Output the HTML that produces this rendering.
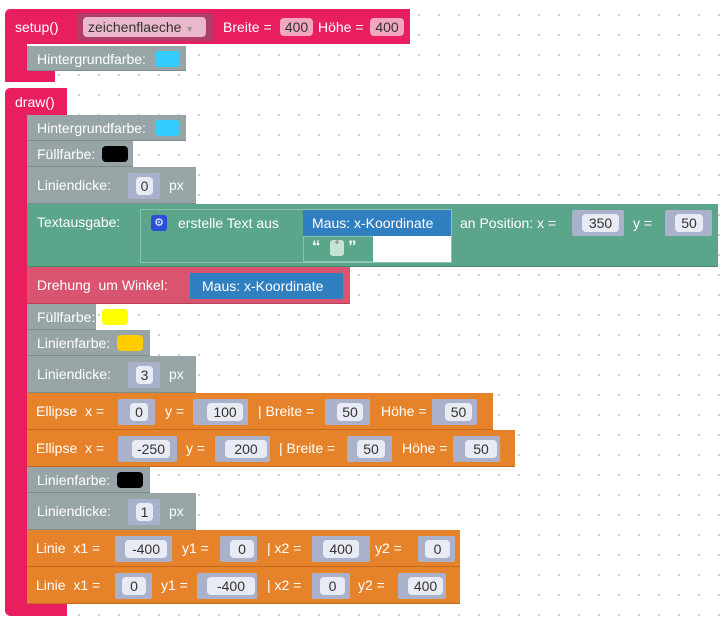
<!DOCTYPE html>
<html><head><meta charset="utf-8"><style>
body{margin:0;width:723px;height:622px;overflow:hidden;background:#fff;
background-image:radial-gradient(circle,#c4c4c4 0.8px,transparent 1.2px);background-size:20px 20px;background-position:9px 5px;
font-family:"Liberation Sans",sans-serif;position:relative}
div,span{position:absolute;box-sizing:border-box}
.t{color:#fff;font-size:14px;white-space:nowrap;line-height:16px}
.sk{background:#aab1ca;border-radius:2px}
.v{background:#e8ebf3;border-radius:4px;color:#333;font-size:14px;text-align:center;line-height:18px;height:18px}
.g{background:#98a5a6;border-bottom:1px solid #7f8c8d}
.o{background:#e6832a;border-bottom:1px solid #c46a1c}
.sw{border-radius:4px}
</style></head><body>
<!-- setup -->
<div style="left:5px;top:9px;width:405px;height:35px;background:#e91e5f;border-radius:5px 0 0 0"></div>
<div style="left:5px;top:40px;width:22px;height:42px;background:#e91e5f"></div>
<div style="left:5px;top:66px;width:50px;height:16px;background:#e91e5f;border-radius:0 0 0 6px"></div>
<span class="t" style="left:15px;top:19px">setup()</span>
<div style="left:77px;top:13px;width:136px;height:28px;background:#b03c6c"></div>
<div style="left:83px;top:17px;width:123px;height:20px;background:#eab8cc;border-radius:4px"></div>
<span class="t" style="left:88px;top:19px;color:#333">zeichenflaeche <span style="position:static;font-size:9px;color:#999">▼</span></span>
<span class="t" style="left:223px;top:19px">Breite =</span>
<div class="v" style="left:280px;top:18px;width:33px;background:#f2a6c0">400</div>
<span class="t" style="left:318px;top:19px">Höhe =</span>
<div class="v" style="left:370px;top:18px;width:34px;background:#f2a6c0">400</div>
<div class="g" style="left:27px;top:46px;width:159px;height:25px"></div>
<span class="t" style="left:37px;top:51px">Hintergrundfarbe:</span>
<div class="sw" style="left:155px;top:51px;width:25px;height:16px;background:#33ccff"></div>

<!-- draw -->
<div style="left:5px;top:88px;width:62px;height:27px;background:#e91e5f;border-radius:5px 0 0 0"></div>
<div style="left:5px;top:100px;width:22px;height:516px;background:#e91e5f;border-radius:0 0 0 6px"></div>
<div style="left:5px;top:603px;width:62px;height:13px;background:#e91e5f;border-radius:0 0 0 6px"></div>
<span class="t" style="left:15px;top:94px">draw()</span>

<div class="g" style="left:27px;top:115px;width:159px;height:26px"></div>
<span class="t" style="left:37px;top:120px">Hintergrundfarbe:</span>
<div class="sw" style="left:155px;top:120px;width:25px;height:16px;background:#33ccff"></div>

<div class="g" style="left:27px;top:141px;width:106px;height:26px"></div>
<span class="t" style="left:37px;top:146px">Füllfarbe:</span>
<div class="sw" style="left:102px;top:146px;width:26px;height:16px;background:#000"></div>

<div class="g" style="left:27px;top:167px;width:169px;height:37px"></div>
<span class="t" style="left:37px;top:177px">Liniendicke:</span>
<div class="sk" style="left:128px;top:173px;width:32px;height:26px"></div>
<div class="v" style="left:136px;top:177px;width:17px">0</div>
<span class="t" style="left:169px;top:177px">px</span>

<!-- Textausgabe -->
<div style="left:27px;top:204px;width:691px;height:63px;background:#5ba58b;border-bottom:1px solid #4a8a73"></div>
<span class="t" style="left:37px;top:214px">Textausgabe:</span>
<div style="left:140px;top:209px;width:312px;height:54px;border:1px solid #8cc3ae;background:#5ba58b"></div>
<div style="left:151px;top:215px;width:16px;height:16px;background:#2b4fd6;border-radius:3px;color:#fff;font-size:11px;text-align:center;line-height:16px">⚙</div>
<span class="t" style="left:178px;top:215px">erstelle Text aus</span>
<div style="left:303px;top:210px;width:148px;height:26px;background:#2f7fc1"></div>
<span class="t" style="left:312px;top:215px">Maus: x-Koordinate</span>
<div style="left:303px;top:236px;width:71px;height:26px;background:#5ba58b;border:1px solid #8cc3ae"></div>
<div style="left:373px;top:236px;width:78px;height:26px;background:#fff"></div>
<span class="t" style="left:312px;top:239px;font-weight:bold;font-size:17px">“</span>
<div style="left:330px;top:240px;width:14px;height:16px;background:#c9e2d6;border-radius:3px;color:#333;font-size:10px;text-align:center;line-height:12px">°</div>
<span class="t" style="left:348px;top:239px;font-weight:bold;font-size:17px">”</span>
<span class="t" style="left:460px;top:215px">an Position: x =</span>
<div class="sk" style="left:572px;top:210px;width:52px;height:26px"></div>
<div class="v" style="left:582px;top:214px;width:37px">350</div>
<span class="t" style="left:633px;top:215px">y =</span>
<div class="sk" style="left:665px;top:210px;width:47px;height:26px"></div>
<div class="v" style="left:675px;top:214px;width:28px">50</div>

<!-- Drehung -->
<div style="left:27px;top:267px;width:323px;height:37px;background:#d8546f;border-bottom:1px solid #b8405a"></div>
<span class="t" style="left:37px;top:277px">Drehung &nbsp;um Winkel:</span>
<div style="left:190px;top:273px;width:153px;height:26px;background:#2f7fc1"></div>
<span class="t" style="left:202px;top:278px">Maus: x-Koordinate</span>

<div class="g" style="left:27px;top:304px;width:69px;height:26px"></div>
<span class="t" style="left:37px;top:309px">Füllfarbe:</span>
<div class="sw" style="left:102px;top:309px;width:26px;height:16px;background:#ffff00"></div>
<div class="g" style="left:27px;top:330px;width:123px;height:26px"></div>
<span class="t" style="left:37px;top:335px">Linienfarbe:</span>
<div class="sw" style="left:117px;top:335px;width:26px;height:16px;background:#ffcc00"></div>

<div class="g" style="left:27px;top:356px;width:169px;height:37px"></div>
<span class="t" style="left:37px;top:366px">Liniendicke:</span>
<div class="sk" style="left:128px;top:362px;width:32px;height:26px"></div>
<div class="v" style="left:136px;top:366px;width:17px">3</div>
<span class="t" style="left:169px;top:366px">px</span>

<!-- Ellipse 1 -->
<div class="o" style="left:27px;top:393px;width:466px;height:37px"></div>
<span class="t" style="left:36px;top:403px">Ellipse &nbsp;x =</span>
<div class="sk" style="left:118px;top:399px;width:37px;height:26px"></div><div class="v" style="left:130px;top:403px;width:18px">0</div>
<span class="t" style="left:165px;top:403px">y =</span>
<div class="sk" style="left:193px;top:399px;width:55px;height:26px"></div><div class="v" style="left:207px;top:403px;width:36px">100</div>
<span class="t" style="left:258px;top:403px">| Breite =</span>
<div class="sk" style="left:325px;top:399px;width:45px;height:26px"></div><div class="v" style="left:337px;top:403px;width:26px">50</div>
<span class="t" style="left:381px;top:403px">Höhe =</span>
<div class="sk" style="left:432px;top:399px;width:45px;height:26px"></div><div class="v" style="left:445px;top:403px;width:27px">50</div>

<!-- Ellipse 2 -->
<div class="o" style="left:27px;top:430px;width:488px;height:37px"></div>
<span class="t" style="left:36px;top:440px">Ellipse &nbsp;x =</span>
<div class="sk" style="left:118px;top:436px;width:59px;height:26px"></div><div class="v" style="left:132px;top:440px;width:38px">-250</div>
<span class="t" style="left:186px;top:440px">y =</span>
<div class="sk" style="left:215px;top:436px;width:55px;height:26px"></div><div class="v" style="left:225px;top:440px;width:42px">200</div>
<span class="t" style="left:279px;top:440px">| Breite =</span>
<div class="sk" style="left:347px;top:436px;width:45px;height:26px"></div><div class="v" style="left:357px;top:440px;width:28px">50</div>
<span class="t" style="left:402px;top:440px">Höhe =</span>
<div class="sk" style="left:453px;top:436px;width:47px;height:26px"></div><div class="v" style="left:465px;top:440px;width:32px">50</div>

<div class="g" style="left:27px;top:467px;width:123px;height:26px"></div>
<span class="t" style="left:37px;top:472px">Linienfarbe:</span>
<div class="sw" style="left:117px;top:472px;width:26px;height:16px;background:#000"></div>

<div class="g" style="left:27px;top:493px;width:169px;height:37px"></div>
<span class="t" style="left:37px;top:503px">Liniendicke:</span>
<div class="sk" style="left:128px;top:499px;width:32px;height:26px"></div>
<div class="v" style="left:136px;top:503px;width:17px">1</div>
<span class="t" style="left:169px;top:503px">px</span>

<!-- Linie 1 -->
<div class="o" style="left:27px;top:530px;width:433px;height:37px"></div>
<span class="t" style="left:36px;top:540px">Linie &nbsp;x1 =</span>
<div class="sk" style="left:115px;top:536px;width:57px;height:26px"></div><div class="v" style="left:125px;top:540px;width:42px">-400</div>
<span class="t" style="left:182px;top:540px">y1 =</span>
<div class="sk" style="left:220px;top:536px;width:37px;height:26px"></div><div class="v" style="left:230px;top:540px;width:24px">0</div>
<span class="t" style="left:267px;top:540px">| x2 =</span>
<div class="sk" style="left:312px;top:536px;width:58px;height:26px"></div><div class="v" style="left:323px;top:540px;width:36px">400</div>
<span class="t" style="left:375px;top:540px">y2 =</span>
<div class="sk" style="left:418px;top:536px;width:37px;height:26px"></div><div class="v" style="left:425px;top:540px;width:25px">0</div>

<!-- Linie 2 -->
<div class="o" style="left:27px;top:567px;width:433px;height:37px"></div>
<span class="t" style="left:36px;top:577px">Linie &nbsp;x1 =</span>
<div class="sk" style="left:115px;top:573px;width:37px;height:26px"></div><div class="v" style="left:122px;top:577px;width:24px">0</div>
<span class="t" style="left:161px;top:577px">y1 =</span>
<div class="sk" style="left:197px;top:573px;width:60px;height:26px"></div><div class="v" style="left:207px;top:577px;width:48px">-400</div>
<span class="t" style="left:267px;top:577px">| x2 =</span>
<div class="sk" style="left:312px;top:573px;width:38px;height:26px"></div><div class="v" style="left:320px;top:577px;width:25px">0</div>
<span class="t" style="left:358px;top:577px">y2 =</span>
<div class="sk" style="left:398px;top:573px;width:48px;height:26px"></div><div class="v" style="left:408px;top:577px;width:35px">400</div>
</body></html>
